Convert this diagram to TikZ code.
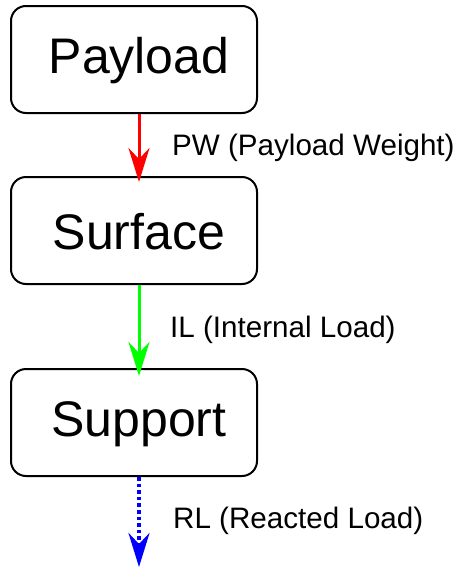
\documentclass[tikz,border=0pt]{standalone}
\usepackage{fontspec}
\setmainfont{Liberation Sans}
\usetikzlibrary{arrows.meta}
\begin{document}
\begin{tikzpicture}[x=1pt,y=-1pt,
  box/.style={draw=black,line width=2pt,rounded corners=15pt,minimum width=246pt,minimum height=107pt,inner sep=0pt},
  boxtext/.style={font=\fontsize{50}{50}\selectfont,anchor=base,inner sep=0pt},
  lbl/.style={font=\fontsize{29.6}{30}\selectfont,anchor=base west,inner sep=0pt},
  flow/.style={line width=3pt,-{Stealth[length=34pt,width=21pt,inset=11pt]}}]
\useasboundingbox (0,0) rectangle (458,568);
\node[box] (pay) at (134,59.5) {};
\node[box] (sur) at (134,230.5) {};
\node[box] (sup) at (134,422.5) {};
\node[boxtext] (payt) at (139,73) {Payload};
\node[boxtext] (surt) at (139,249) {Surface};
\node[boxtext] (supt) at (139,436) {Support};
\coordinate (end) at (139,567);
\draw[flow,red] ([xshift=5pt]pay.south) -- ([xshift=5pt,yshift=-6pt]sur.north);
\draw[flow,green] ([xshift=5pt]sur.south) -- ([xshift=5pt,yshift=-8pt]sup.north);
\draw[flow,blue,line width=3.6pt,dash pattern=on 3.6pt off 3pt] ([xshift=5pt]sup.south) -- (end);
\node[lbl] (pw) at (172,155) {PW (Payload Weight)};
\node[lbl] (il) at (170,337) {IL (Internal Load)};
\node[lbl] (rl) at (173,528) {RL (Reacted Load)};
\end{tikzpicture}
\end{document}
